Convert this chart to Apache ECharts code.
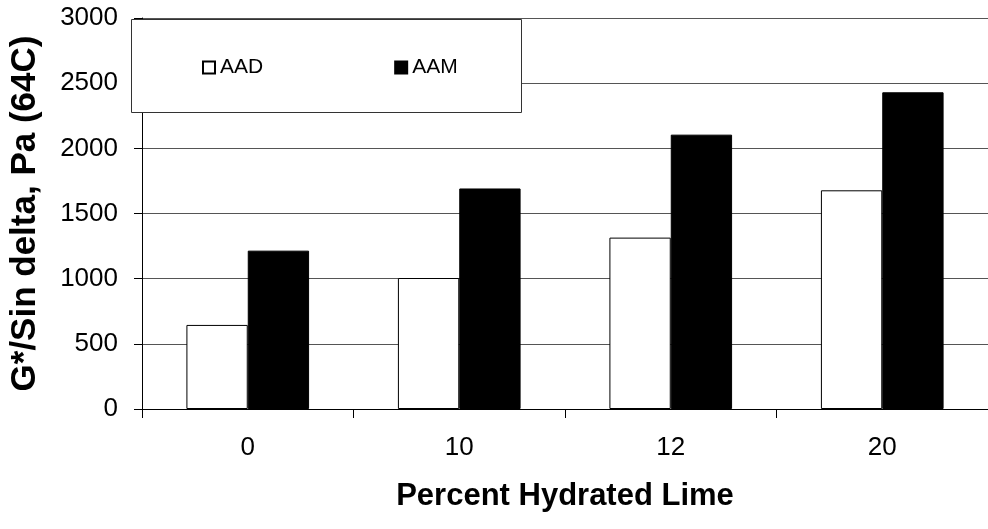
<!DOCTYPE html>
<html><head><meta charset="utf-8">
<script src="https://cdn.jsdelivr.net/npm/echarts@6/dist/echarts.min.js"></script>
<style>html,body{margin:0;padding:0;background:#fff}#c{width:988px;height:529px}</style>
</head><body><div id="c"></div>
<script>
var categories = ['0', '10', '12', '20'];
var aad = [645, 1005, 1315, 1678];
var aam = [1215, 1692, 2105, 2430];
var yTicks = [0, 500, 1000, 1500, 2000, 2500, 3000];
var font = 'Liberation Sans, Arial, sans-serif';
var chart = echarts.init(document.getElementById('c'), null, {renderer: 'canvas'});
chart.setOption({
  animation: false,
  backgroundColor: '#fff',
  grid: {left: 142, top: 18, right: 0, bottom: 120},
  graphic: [{
    type: 'rect', z: 50, left: 131, top: 19,
    shape: {width: 390, height: 93},
    style: {fill: '#fff', stroke: '#333', lineWidth: 1}
  }],
  legend: {
    z: 60, left: 197, top: 52, itemWidth: 12, itemHeight: 12, itemGap: 131,
    icon: 'rect',
    textStyle: {fontFamily: font, fontSize: 21, color: '#000'},
    data: ['AAD', 'AAM']
  },
  xAxis: {
    type: 'category', data: categories,
    name: 'Percent Hydrated Lime', nameLocation: 'middle', nameGap: 72,
    nameTextStyle: {fontFamily: font, fontSize: 31, fontWeight: 'bold', color: '#000'},
    axisLine: {lineStyle: {color: '#000', width: 1}},
    axisTick: {show: true, length: 9, lineStyle: {color: '#000'}},
    axisLabel: {fontFamily: font, fontSize: 26, color: '#000', margin: 26}
  },
  yAxis: {
    type: 'value', min: 0, max: 3000, interval: 500,
    name: 'G*/Sin delta, Pa (64C)', nameLocation: 'middle', nameGap: 99,
    nameTextStyle: {fontFamily: font, fontSize: 35, fontWeight: 'bold', color: '#000'},
    axisLine: {show: true, lineStyle: {color: '#000', width: 1}},
    axisTick: {show: true, length: 8, lineStyle: {color: '#000'}},
    axisLabel: {fontFamily: font, fontSize: 26, color: '#000', margin: 24,
      formatter: function (v) { return yTicks.indexOf(v) >= 0 ? String(v) : ''; }},
    splitLine: {show: true, lineStyle: {color: '#555', width: 1}}
  },
  series: [
    {name: 'AAD', type: 'bar', data: aad, barGap: '0%', barCategoryGap: '42%',
     itemStyle: {color: '#fff', borderColor: '#000', borderWidth: 1}},
    {name: 'AAM', type: 'bar', data: aam,
     itemStyle: {color: '#000', borderColor: '#000', borderWidth: 1}}
  ]
});
</script></body></html>
